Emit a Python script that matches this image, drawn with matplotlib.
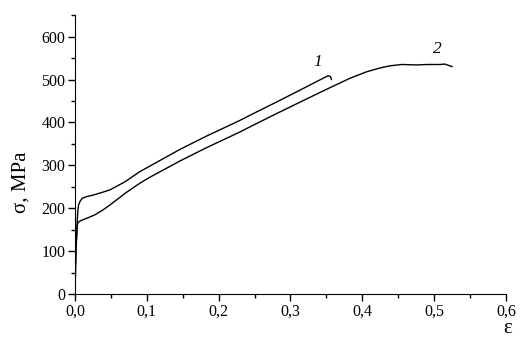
import matplotlib
matplotlib.use('Agg')
import matplotlib.pyplot as plt
from matplotlib.ticker import MultipleLocator

# curve 1 (upper)
eps1 = [0, 0.001, 0.002, 0.003, 0.004, 0.005, 0.007, 0.010, 0.016, 0.024, 0.038,
        0.049, 0.07, 0.09, 0.104, 0.146, 0.183, 0.23, 0.244, 0.28, 0.313, 0.335,
        0.348, 0.353, 0.356, 0.357]
sig1 = [0, 70, 130, 170, 195, 208, 216, 223, 227, 230, 237,
        243, 262, 285, 298, 337, 368, 405, 417, 447, 475, 494,
        505, 509, 506, 500]

# curve 2 (lower)
eps2 = [0, 0.0005, 0.001, 0.0015, 0.002, 0.0025, 0.003, 0.004, 0.005, 0.008,
        0.017, 0.027, 0.038, 0.049, 0.07, 0.09, 0.104, 0.146, 0.183, 0.23,
        0.244, 0.28, 0.313, 0.345, 0.369, 0.383, 0.406, 0.425, 0.439, 0.455,
        0.476, 0.49, 0.508, 0.515, 0.52, 0.525]
sig2 = [0, 60, 110, 150, 125, 140, 160, 166, 168, 171,
        177, 184, 195, 208, 235, 258, 272, 310, 341, 378,
        390, 420, 447, 473, 492, 503, 518, 527, 532, 535,
        534, 535, 535, 536, 533, 530]

xticks = [0.0, 0.1, 0.2, 0.3, 0.4, 0.5, 0.6]
xtick_labels = ['0,0', '0,1', '0,2', '0,3', '0,4', '0,5', '0,6']
yticks = [0, 100, 200, 300, 400, 500, 600]

plt.rcParams['font.family'] = ['Liberation Serif', 'DejaVu Serif']

fig = plt.figure(figsize=(5.21, 3.37), dpi=100)
ax = fig.add_axes([0.144, 0.1276, 0.827, 0.8274])

ax.plot(eps1, sig1, color='black', lw=1.0)
ax.plot(eps2, sig2, color='black', lw=1.0)

ax.text(0.338, 540, '1', style='italic', fontsize=12.5, ha='center', va='center')
ax.text(0.504, 570, '2', style='italic', fontsize=12.5, ha='center', va='center')

ax.set_xlim(0, 0.6)
ax.set_ylim(0, 650)
ax.set_xticks(xticks)
ax.set_xticklabels(xtick_labels)
ax.set_yticks(yticks)
ax.xaxis.set_minor_locator(MultipleLocator(0.05))
ax.yaxis.set_minor_locator(MultipleLocator(50))
ax.tick_params(which='major', direction='out', length=5, width=1, labelsize=11.5, pad=2)
ax.tick_params(which='minor', direction='out', length=3, width=1)

ax.spines['top'].set_visible(False)
ax.spines['right'].set_visible(False)

ax.set_ylabel('σ, MPa', fontsize=15)
ax.yaxis.set_label_coords(-0.104, 0.40)
ax.set_xlabel('ε', fontsize=15, va='center')
ax.xaxis.set_label_coords(1.005, -0.122)

fig.savefig('out.png', dpi=100)
